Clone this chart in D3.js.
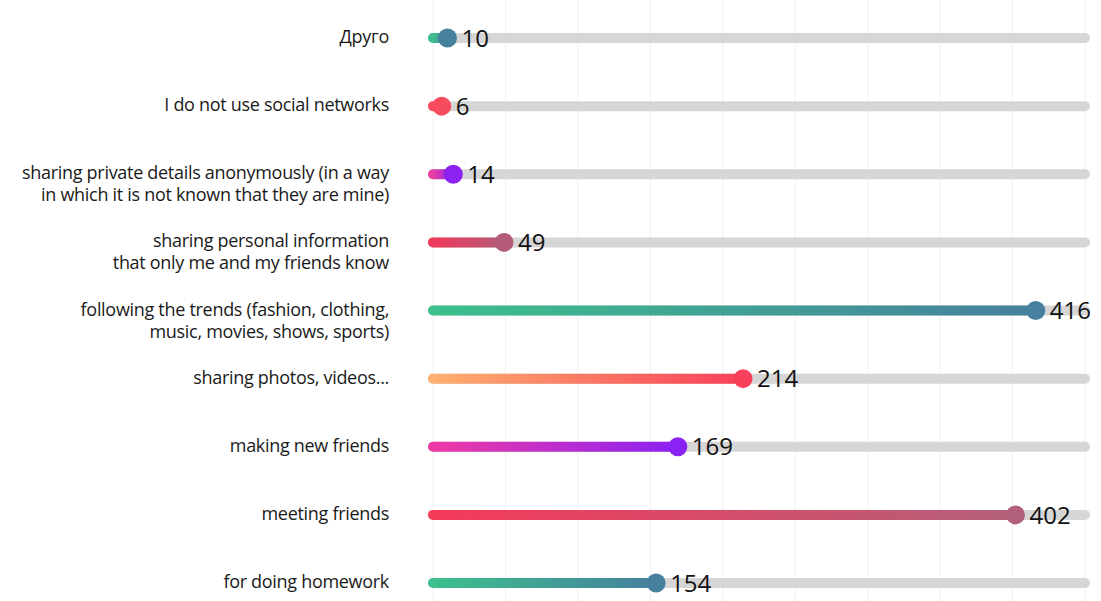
<!DOCTYPE html>
<html>
<head>
<meta charset="utf-8">
<script src="https://cdn.jsdelivr.net/npm/d3@7"></script>
<style>
  body { margin: 0; background: #fff; }
  text { font-family: "Open Sans", Lato, sans-serif; }
</style>
</head>
<body>
<div id="chart"></div>
<script>
// categories, top to bottom
var categories = [
  "Друго",
  "I do not use social networks",
  "sharing private details anonymously (in a way\nin which it is not known that they are mine)",
  "sharing personal information\nthat only me and my friends know",
  "following the trends (fashion, clothing,\nmusic, movies, shows, sports)",
  "sharing photos, videos...",
  "making new friends",
  "meeting friends",
  "for doing homework"
]
var values = [10, 6, 14, 49, 416, 214, 169, 402, 154]
var gridTicks = [0, 50, 100, 150, 200, 250, 300, 350, 400, 450]

// gradient colours [start, end] per row
var palette = [
  ["#3cbf8d", "#46819b"],
  ["#f64c5e", "#f64c5e"],
  ["#e63ea3", "#8b22f2"],
  ["#ee3a5b", "#b45c78"],
  ["#3cc08c", "#46809e"],
  ["#fdb06f", "#f8405a"],
  ["#ee3aa5", "#8a22f3"],
  ["#f53a5a", "#b3607a"],
  ["#3cc08c", "#46809e"]
]

var width = 1101, height = 601

var svg = d3.select("#chart")
  .append("svg")
  .attr("width", width)
  .attr("height", height)

var xScale = d3.scaleLinear()
  .domain([0, 450])
  .range([433, 1085])

var yScale = d3.scalePoint()
  .domain(categories)
  .range([38, 583])

// Render grid
svg.append("g")
  .attr("class", "grid")
  .selectAll("line")
  .data(gridTicks)
  .enter()
  .append("line")
  .attr("x1", d => xScale(d))
  .attr("x2", d => xScale(d))
  .attr("y1", 0)
  .attr("y2", height)
  .style("stroke", "#f0f0f0")
  .style("stroke-width", 1)

var defs = svg.append("defs")

defs.selectAll("linearGradient")
  .data(values)
  .enter()
  .append("linearGradient")
  .attr("id", (d, i) => `grad-${i}`)
  .attr("gradientUnits", "userSpaceOnUse")
  .attr("x1", xScale(0))
  .attr("x2", d => xScale(d))
  .attr("y1", 0)
  .attr("y2", 0)
  .each(function(d, i) {
    d3.select(this).append("stop").attr("offset", "0%").attr("stop-color", palette[i][0])
    d3.select(this).append("stop").attr("offset", "100%").attr("stop-color", palette[i][1])
  })

var rows = svg.selectAll(".row")
  .data(categories)
  .enter()
  .append("g")
  .attr("class", "row")
  .attr("transform", d => `translate(0,${yScale(d)})`)

// background track
rows.append("line")
  .attr("x1", xScale(0))
  .attr("x2", xScale(450))
  .attr("y1", 0)
  .attr("y2", 0)
  .style("stroke", "#d6d6d6")
  .style("stroke-width", 10)
  .style("stroke-linecap", "round")

// value bar
rows.append("line")
  .attr("x1", xScale(0))
  .attr("x2", (d, i) => xScale(values[i]))
  .attr("y1", 0)
  .attr("y2", 0)
  .style("stroke", (d, i) => `url(#grad-${i})`)
  .style("stroke-width", 10)
  .style("stroke-linecap", "round")

rows.append("circle")
  .attr("cx", (d, i) => xScale(values[i]))
  .attr("cy", 0)
  .attr("r", 9.5)
  .style("fill", (d, i) => palette[i][1])

rows.append("text")
  .attr("x", (d, i) => xScale(values[i]) + 14)
  .attr("y", 0)
  .attr("dy", "0.36em")
  .text((d, i) => values[i])
  .style("font-size", "24px")
  .style("fill", "#111")

// category labels
rows.append("text")
  .attr("x", 389)
  .attr("y", 0)
  .style("text-anchor", "end")
  .style("font-size", "18px")
  .style("fill", "#1a1a1a")
  .style("letter-spacing", "-0.3px")
  .each(function(d) {
    var lines = d.split("\n")
    d3.select(this).selectAll("tspan")
      .data(lines)
      .enter()
      .append("tspan")
      .attr("x", 389)
      .attr("y", (l, j) => j * 22 + 5)
      .text(l => l)
  })
</script>
</body>
</html>
